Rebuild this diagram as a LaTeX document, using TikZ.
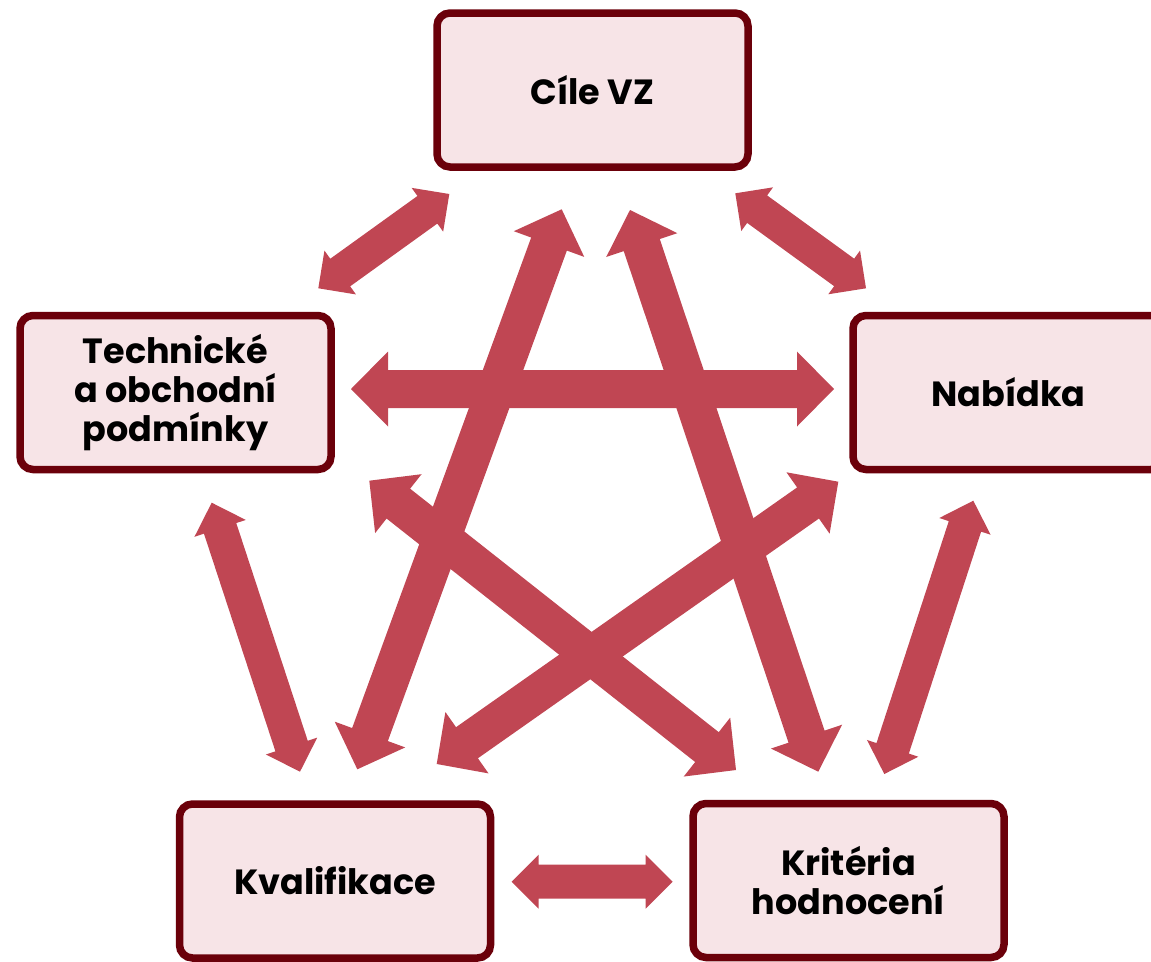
\documentclass[tikz,border=0pt]{standalone}
\usepackage{fontspec}
\setmainfont{Poppins}
\usetikzlibrary{calc}
\definecolor{boxfill}{HTML}{F7E4E7}
\definecolor{boxline}{HTML}{6B000A}
\definecolor{arrcol}{HTML}{C04653}
\tikzset{
  box/.style={draw=boxline, fill=boxfill, line width=7.5pt, rounded corners=13pt,
    minimum width=311pt, minimum height=154pt, inner sep=0pt, align=center,
    font=\fontsize{35}{39}\selectfont\bfseries, text=black},
  arr/.style={fill=arrcol, draw=none}
}
% #1,#2 tips; #3 half shaft; #4 half head; #5 head length
\newcommand\dblarrow[5]{%
  \coordinate (pA) at ($(#1)!#5!(#2)$);
  \coordinate (pB) at ($(#2)!#5!(#1)$);
  \fill[arr] (#1) -- ($(pA)!#4!90:(#2)$) -- ($(pA)!#3!90:(#2)$)
    -- ($(pB)!#3!-90:(#1)$) -- ($(pB)!#4!-90:(#1)$) -- (#2)
    -- ($(pB)!#4!90:(#1)$) -- ($(pB)!#3!90:(#1)$)
    -- ($(pA)!#3!-90:(#2)$) -- ($(pA)!#4!-90:(#2)$) -- cycle;}
\newcommand\smallarrow[2]{\dblarrow{#1}{#2}{17pt}{27pt}{27pt}}
\newcommand\bigarrow[2]{\dblarrow{#1}{#2}{19pt}{37.5pt}{37pt}}
\begin{document}
\begin{tikzpicture}[x=1pt,y=-1pt]
\useasboundingbox (0,0) rectangle (1151,961);
% boxes
\node[box] (cile) at (592.5,90) {Cíle VZ};
\node[box] (tech) at (175.5,392.5) {Technické\\a obchodní\\podmínky};
\node[box] (nab)  at (1008.5,392.5) {Nabídka};
\node[box] (kval) at (335,881) {Kvalifikace};
\node[box] (krit) at (848.5,880.5) {Kritéria\\hodnocení};
% arrow tips
\coordinate (a1s) at (449.3,194);   \coordinate (a1e) at (318.3,288.3);
\coordinate (a2s) at (735.3,193.3); \coordinate (a2e) at (866,288.3);
\coordinate (a3s) at (211.7,502.7); \coordinate (a3e) at (300,771.7);
\coordinate (a4s) at (973.3,500.7); \coordinate (a4e) at (884.3,774);
\coordinate (a5s) at (511.7,881.7); \coordinate (a5e) at (672.7,881.7);
\coordinate (b1s) at (351,389);     \coordinate (b1e) at (834,389);
\coordinate (b2s) at (561.7,209.3); \coordinate (b2e) at (357.3,769.3);
\coordinate (b3s) at (630,210);     \coordinate (b3e) at (818.3,771.7);
\coordinate (b4s) at (369.3,480.7); \coordinate (b4e) at (736,770);
\coordinate (b5s) at (838.3,481.7); \coordinate (b5e) at (436.7,764);
% arrows
\smallarrow{a1s}{a1e}
\smallarrow{a2s}{a2e}
\smallarrow{a3s}{a3e}
\smallarrow{a4s}{a4e}
\smallarrow{a5s}{a5e}
\bigarrow{b1s}{b1e}
\bigarrow{b2s}{b2e}
\bigarrow{b3s}{b3e}
\bigarrow{b4s}{b4e}
\bigarrow{b5s}{b5e}
\end{tikzpicture}
\end{document}
